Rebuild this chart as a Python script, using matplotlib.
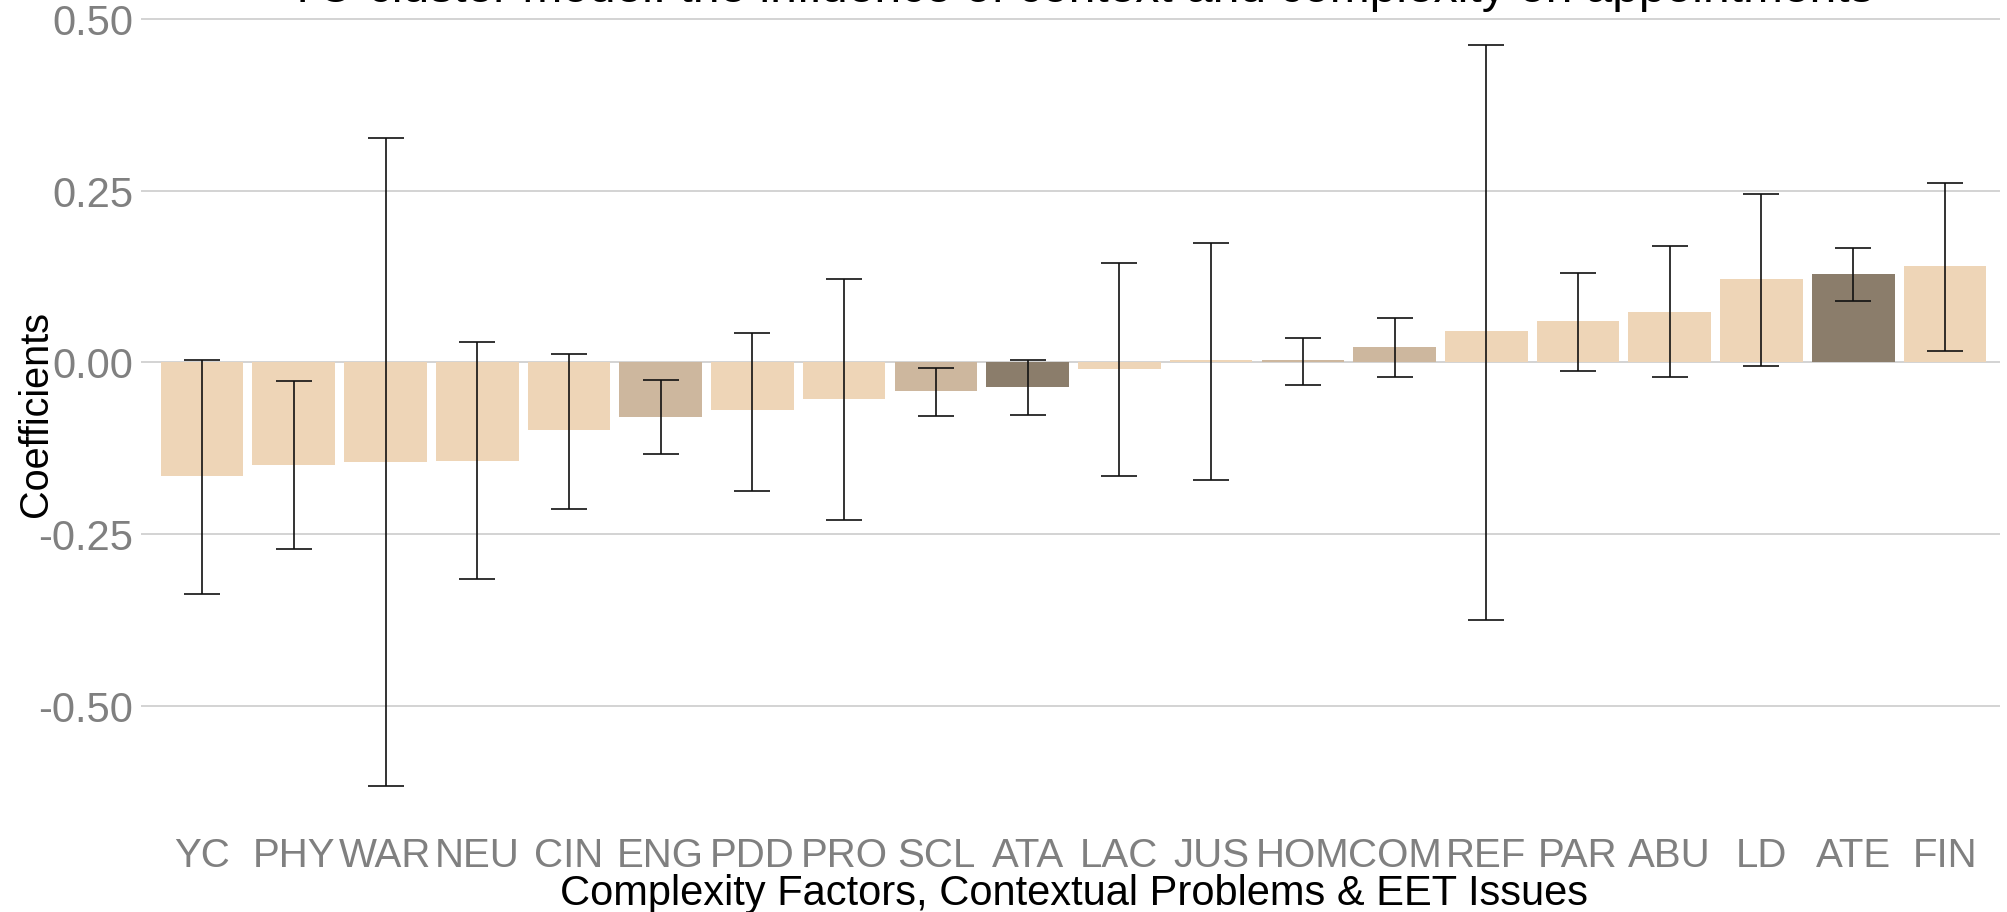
import matplotlib
matplotlib.use("Agg")
import matplotlib.pyplot as plt
import numpy as np

plt.rcParams['font.family'] = ['Liberation Sans', 'DejaVu Sans']
plt.rcParams['axes.unicode_minus'] = False

categories = ["YC", "PHY", "WAR", "NEU", "CIN", "ENG", "PDD", "PRO", "SCL", "ATA",
              "LAC", "JUS", "HOM", "COM", "REF", "PAR", "ABU", "LD", "ATE", "FIN"]
coef = [-0.166, -0.150, -0.145, -0.143, -0.099, -0.079, -0.070, -0.053, -0.041, -0.036,
        -0.010, 0.003, 0.003, 0.022, 0.045, 0.060, 0.073, 0.121, 0.129, 0.141]
lower = [-0.337, -0.272, -0.617, -0.315, -0.214, -0.134, -0.187, -0.229, -0.078, -0.076,
         -0.166, -0.171, -0.033, -0.022, -0.375, -0.013, -0.022, -0.005, 0.089, 0.016]
upper = [0.004, -0.027, 0.327, 0.029, 0.012, -0.025, 0.043, 0.121, -0.008, 0.004,
         0.145, 0.174, 0.035, 0.065, 0.463, 0.130, 0.169, 0.245, 0.167, 0.262]
group = ["A", "A", "A", "A", "A", "B", "A", "A", "B", "C",
         "A", "A", "B", "B", "A", "A", "A", "A", "C", "A"]
yticks = [-0.50, -0.25, 0.00, 0.25, 0.50]

title = "TC-cluster model: the influence of context and complexity on appointments"
xlabel = "Complexity Factors, Contextual Problems & EET Issues"
ylabel = "Coefficients"

palette = {"A": "#EED5B7", "B": "#CDB79E", "C": "#8B7D6B"}

W, H = 2007, 912
fig = plt.figure(figsize=(W / 100, (H + 0.5) / 100), dpi=100)
ax = fig.add_axes([147 / W, 1 - 823 / H, (2000 - 147) / W, (823 - 8) / H])

x = np.arange(len(categories))
coef_a = np.array(coef)
lo = np.array(lower)
hi = np.array(upper)
ax.bar(x, coef_a, width=0.9, color=[palette[g] for g in group], zorder=2)
ax.errorbar(x, coef_a, yerr=[coef_a - lo, hi - coef_a], fmt='none', ecolor='#111111',
            elinewidth=1.2, capsize=13.2, capthick=1.2, zorder=3)

ymin, ymax = min(lower), max(upper)
rng = ymax - ymin
ax.set_ylim(ymin - 0.05 * rng, ymax + 0.05 * rng)
ax.set_xlim(-0.6, len(categories) - 0.4)

ax.set_yticks(yticks)
ax.set_yticklabels([f"{v:.2f}" for v in yticks])
ax.set_xticks(x)
ax.set_xticklabels(categories)
ax.yaxis.grid(True, color='#C8C8C8', linewidth=1.1, zorder=0)
ax.xaxis.grid(False)
ax.set_axisbelow(True)
for s in ax.spines.values():
    s.set_visible(False)
ax.tick_params(axis='y', length=4, color='#C8C8C8', width=1.1, labelsize=30,
               labelcolor='#808080', pad=6)
ax.tick_params(axis='x', length=0, labelsize=29, labelcolor='#808080', pad=10)

ax.set_xlabel(xlabel, fontsize=30, color='black', labelpad=-1)
fig.text(36 / W, 1 - 414 / H, ylabel, rotation=90, ha='center', va='center',
         fontsize=28.5, color='black')

fig.text(1081 / W, 1 - 1.5 / H, title, ha='center', va='baseline', fontsize=34.5, color='black')

fig.savefig("out.png", dpi=100)
